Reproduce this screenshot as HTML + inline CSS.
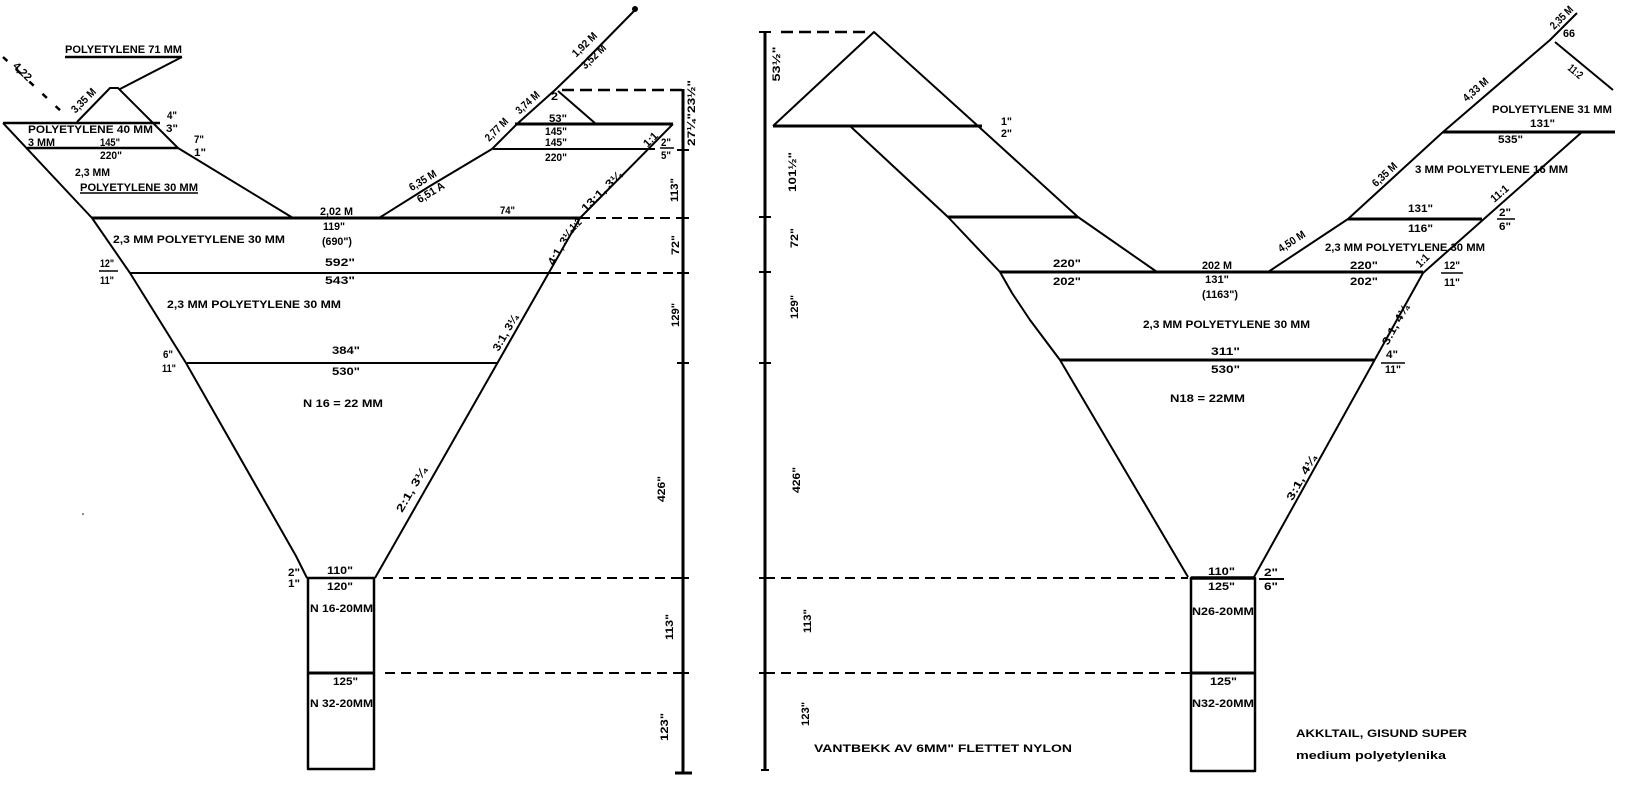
<!DOCTYPE html>
<html><head><meta charset="utf-8"><style>
html,body{margin:0;padding:0;background:#fff;}
svg{display:block;}
text{font-family:"Liberation Sans Narrow","Liberation Sans",sans-serif;font-weight:bold;font-size:11px;fill:#000;}
.r{text-anchor:middle;dominant-baseline:central;}
</style></head><body>
<svg width="1629" height="785" viewBox="0 0 1629 785" xmlns="http://www.w3.org/2000/svg">
<g fill="none" stroke="#000" stroke-linecap="butt" stroke-linejoin="round">
<!-- LEFT PANEL -->
<line x1="3" y1="57" x2="63" y2="113" stroke-width="2.5" stroke-dasharray="6,12"/>
<line x1="65" y1="57" x2="182" y2="57" stroke-width="2.5"/>
<line x1="182" y1="57" x2="120" y2="89" stroke-width="2"/>
<polyline points="77,122 110,88 118,88 178,148 293,218" stroke-width="2"/>
<line x1="3" y1="123" x2="160" y2="123" stroke-width="2.5"/>
<line x1="27" y1="148" x2="178" y2="148" stroke-width="2.5"/>
<polyline points="3,123 92,218 130,273 186,363 296,556 307,578" stroke-width="2"/>
<line x1="92" y1="218" x2="580" y2="218" stroke-width="3"/>
<polyline points="379,218 430,186 492,149 517,124 555,90 583,63 635,10" stroke-width="2"/>
<circle cx="635" cy="9" r="2.5" fill="#000"/>
<line x1="515" y1="124" x2="673" y2="124" stroke-width="3"/>
<line x1="493" y1="149" x2="655" y2="149" stroke-width="2"/>
<line x1="558" y1="91" x2="596" y2="124" stroke-width="2"/>
<line x1="562" y1="90" x2="683" y2="90" stroke-width="2.5" stroke-dasharray="12,6"/>
<polyline points="673,124 580,218 375,578" stroke-width="2"/>
<line x1="580" y1="218" x2="683" y2="218" stroke-width="2" stroke-dasharray="10,6"/>
<line x1="551" y1="273" x2="683" y2="273" stroke-width="2" stroke-dasharray="10,6"/>
<line x1="130" y1="273" x2="551" y2="273" stroke-width="2"/>
<line x1="187" y1="363" x2="497" y2="363" stroke-width="2"/>
<line x1="683" y1="89" x2="683" y2="773" stroke-width="3"/>
<g stroke-width="2">
<line x1="677" y1="150" x2="689" y2="150"/><line x1="677" y1="218" x2="689" y2="218"/>
<line x1="677" y1="273" x2="689" y2="273"/><line x1="677" y1="363" x2="689" y2="363"/>
<line x1="677" y1="578" x2="689" y2="578"/><line x1="677" y1="673" x2="689" y2="673"/>
</g>
<line x1="675" y1="773" x2="692" y2="773" stroke-width="3"/>
<rect x="308" y="578" width="66" height="191" stroke-width="2.5"/>
<line x1="308" y1="673" x2="374" y2="673" stroke-width="3"/>
<line x1="383" y1="578" x2="683" y2="578" stroke-width="2" stroke-dasharray="10,6"/>
<line x1="385" y1="673" x2="683" y2="673" stroke-width="2" stroke-dasharray="10,6"/>
<line x1="80" y1="193" x2="198" y2="193" stroke-width="1.5"/>
<line x1="99" y1="271" x2="118" y2="271" stroke-width="1.5"/>
<line x1="660" y1="148" x2="674" y2="148" stroke-width="1.5"/>

<!-- RIGHT PANEL -->
<line x1="765" y1="32" x2="765" y2="770" stroke-width="3"/>
<g stroke-width="2">
<line x1="759" y1="32" x2="771" y2="32"/><line x1="759" y1="217" x2="771" y2="217"/>
<line x1="759" y1="272" x2="771" y2="272"/><line x1="759" y1="363" x2="771" y2="363"/>
<line x1="759" y1="578" x2="771" y2="578"/><line x1="759" y1="673" x2="771" y2="673"/>
<line x1="761" y1="770" x2="769" y2="770"/>
</g>
<line x1="781" y1="32" x2="870" y2="32" stroke-width="2.5" stroke-dasharray="12,6"/>
<polyline points="773,126 874,32 978,126 1078,217 1157,272" stroke-width="2"/>
<line x1="773" y1="126" x2="982" y2="126" stroke-width="3"/>
<polyline points="850,126 948,217 1000,272 1012,293 1030,320 1060,360 1188,577" stroke-width="2"/>
<line x1="948" y1="217" x2="1078" y2="217" stroke-width="3"/>
<line x1="1000" y1="272" x2="1423" y2="272" stroke-width="3"/>
<polyline points="1268,272 1348,219 1443,132 1550,40 1577,13" stroke-width="2"/>
<line x1="1348" y1="219" x2="1482" y2="219" stroke-width="3"/>
<line x1="1443" y1="132" x2="1615" y2="132" stroke-width="3"/>
<polyline points="1582,132 1423,273 1254,577" stroke-width="2"/>
<line x1="1555" y1="42" x2="1613" y2="90" stroke-width="2"/>
<line x1="1060" y1="360" x2="1374" y2="360" stroke-width="3"/>
<rect x="1191" y="578" width="64" height="193" stroke-width="2.5"/>
<line x1="1191" y1="578" x2="1255" y2="578" stroke-width="3.5"/>
<line x1="1191" y1="673" x2="1255" y2="673" stroke-width="3"/>
<line x1="765" y1="578" x2="1188" y2="578" stroke-width="2" stroke-dasharray="10,6"/>
<line x1="765" y1="673" x2="1191" y2="673" stroke-width="2" stroke-dasharray="10,6"/>
<line x1="1259" y1="579" x2="1284" y2="579" stroke-width="2"/>
<line x1="1441" y1="273" x2="1463" y2="273" stroke-width="1.5"/>
<line x1="1381" y1="363" x2="1405" y2="363" stroke-width="1.5"/>
<line x1="1497" y1="219" x2="1515" y2="219" stroke-width="1.5"/>
</g>
<circle cx="83" cy="514" r="0.8" fill="#000"/>

<!-- LEFT LABELS -->
<text x="65" y="53" textLength="117" lengthAdjust="spacingAndGlyphs">POLYETYLENE 71 MM</text>
<text class="r" transform="translate(22,72) rotate(45)">4,22</text>
<text class="r" transform="translate(84,101) rotate(-45)" textLength="30" lengthAdjust="spacingAndGlyphs">3,35 M</text>
<text x="28" y="133" textLength="125" lengthAdjust="spacingAndGlyphs">POLYETYLENE 40 MM</text>
<text x="28" y="146" textLength="27" lengthAdjust="spacingAndGlyphs">3 MM</text>
<text x="100" y="146" textLength="20" lengthAdjust="spacingAndGlyphs">145"</text>
<text x="100" y="159" textLength="22" lengthAdjust="spacingAndGlyphs">220"</text>
<text x="75" y="176" textLength="35" lengthAdjust="spacingAndGlyphs">2,3 MM</text>
<text x="80" y="191" textLength="118" lengthAdjust="spacingAndGlyphs">POLYETYLENE 30 MM</text>
<text x="167" y="119" textLength="10" lengthAdjust="spacingAndGlyphs">4"</text>
<text x="166" y="132" textLength="12" lengthAdjust="spacingAndGlyphs">3"</text>
<text x="194" y="143" textLength="10" lengthAdjust="spacingAndGlyphs">7"</text>
<text x="194" y="156" textLength="12" lengthAdjust="spacingAndGlyphs">1"</text>
<text x="320" y="215" textLength="33" lengthAdjust="spacingAndGlyphs">2,02 M</text>
<text x="323" y="230" textLength="22" lengthAdjust="spacingAndGlyphs">119"</text>
<text x="322" y="245" textLength="30" lengthAdjust="spacingAndGlyphs">(690")</text>
<text x="500" y="214" textLength="15" lengthAdjust="spacingAndGlyphs">74"</text>
<text x="113" y="243" textLength="172" lengthAdjust="spacingAndGlyphs">2,3 MM  POLYETYLENE  30 MM</text>
<text x="325" y="266" textLength="30" lengthAdjust="spacingAndGlyphs">592"</text>
<text x="325" y="284" textLength="30" lengthAdjust="spacingAndGlyphs">543"</text>
<text x="100" y="267" textLength="14" lengthAdjust="spacingAndGlyphs">12"</text>
<text x="100" y="284" textLength="14" lengthAdjust="spacingAndGlyphs">11"</text>
<text x="167" y="308" textLength="174" lengthAdjust="spacingAndGlyphs">2,3 MM  POLYETYLENE  30 MM</text>
<text x="332" y="354" textLength="28" lengthAdjust="spacingAndGlyphs">384"</text>
<text x="332" y="375" textLength="28" lengthAdjust="spacingAndGlyphs">530"</text>
<text x="163" y="358" textLength="10" lengthAdjust="spacingAndGlyphs">6"</text>
<text x="162" y="372" textLength="14" lengthAdjust="spacingAndGlyphs">11"</text>
<text x="303" y="407" textLength="80" lengthAdjust="spacingAndGlyphs">N 16 = 22 MM</text>
<text class="r" transform="translate(561,247) rotate(-60)" textLength="40" lengthAdjust="spacingAndGlyphs">4:1,  3¼</text>
<text class="r" transform="translate(506,333) rotate(-60)" textLength="40" lengthAdjust="spacingAndGlyphs">3:1,  3¼</text>
<text class="r" transform="translate(412,490) rotate(-60)" textLength="50" lengthAdjust="spacingAndGlyphs">2:1,  3¼</text>
<text class="r" transform="translate(602,192) rotate(-45)" textLength="52" lengthAdjust="spacingAndGlyphs">13:1,  3¼</text>
<text class="r" transform="translate(651,140) rotate(-45)" textLength="16" lengthAdjust="spacingAndGlyphs">1:1</text>
<text x="661" y="146" textLength="10" lengthAdjust="spacingAndGlyphs">2"</text>
<text x="661" y="159" textLength="10" lengthAdjust="spacingAndGlyphs">5"</text>
<text class="r" transform="translate(576,225) rotate(-45)" textLength="12" lengthAdjust="spacingAndGlyphs">1:2</text>
<text x="549" y="122" textLength="18" lengthAdjust="spacingAndGlyphs">53"</text>
<text x="545" y="135" textLength="22" lengthAdjust="spacingAndGlyphs">145"</text>
<text x="545" y="146" textLength="22" lengthAdjust="spacingAndGlyphs">145"</text>
<text x="545" y="161" textLength="22" lengthAdjust="spacingAndGlyphs">220"</text>
<text x="551" y="100" textLength="7" lengthAdjust="spacingAndGlyphs">2</text>
<text class="r" transform="translate(423,181) rotate(-31)" textLength="30" lengthAdjust="spacingAndGlyphs">6,35 M</text>
<text class="r" transform="translate(431,193) rotate(-31)" textLength="30" lengthAdjust="spacingAndGlyphs">6,51 A</text>
<text class="r" transform="translate(497,130) rotate(-45)" textLength="28" lengthAdjust="spacingAndGlyphs">2,77 M</text>
<text class="r" transform="translate(528,103) rotate(-42)" textLength="28" lengthAdjust="spacingAndGlyphs">3,74 M</text>
<text class="r" transform="translate(585,45) rotate(-44)" textLength="30" lengthAdjust="spacingAndGlyphs">1,92 M</text>
<text class="r" transform="translate(594,57) rotate(-44)" textLength="30" lengthAdjust="spacingAndGlyphs">3,52 M</text>
<text class="r" transform="translate(692,113) rotate(-90)" textLength="66" lengthAdjust="spacingAndGlyphs">27¼"23½"</text>
<text class="r" transform="translate(675,190) rotate(-90)" textLength="24" lengthAdjust="spacingAndGlyphs">113"</text>
<text class="r" transform="translate(676,245) rotate(-90)" textLength="20" lengthAdjust="spacingAndGlyphs">72"</text>
<text class="r" transform="translate(676,315) rotate(-90)" textLength="24" lengthAdjust="spacingAndGlyphs">129"</text>
<text class="r" transform="translate(662,489) rotate(-90)" textLength="26" lengthAdjust="spacingAndGlyphs">426"</text>
<text class="r" transform="translate(670,627) rotate(-90)" textLength="26" lengthAdjust="spacingAndGlyphs">113"</text>
<text class="r" transform="translate(665,727) rotate(-90)" textLength="28" lengthAdjust="spacingAndGlyphs">123"</text>
<text x="327" y="574" textLength="26" lengthAdjust="spacingAndGlyphs">110"</text>
<text x="327" y="590" textLength="26" lengthAdjust="spacingAndGlyphs">120"</text>
<text x="310" y="612" textLength="63" lengthAdjust="spacingAndGlyphs">N 16-20MM</text>
<text x="333" y="685" textLength="25" lengthAdjust="spacingAndGlyphs">125"</text>
<text x="310" y="707" textLength="63" lengthAdjust="spacingAndGlyphs">N 32-20MM</text>
<text x="288" y="576" textLength="12" lengthAdjust="spacingAndGlyphs">2"</text>
<text x="288" y="587" textLength="12" lengthAdjust="spacingAndGlyphs">1"</text>

<!-- RIGHT LABELS -->
<text class="r" transform="translate(777,64) rotate(-90)" textLength="35" lengthAdjust="spacingAndGlyphs">53½"</text>
<text class="r" transform="translate(793,172) rotate(-90)" textLength="40" lengthAdjust="spacingAndGlyphs">101½"</text>
<text class="r" transform="translate(795,238) rotate(-90)" textLength="20" lengthAdjust="spacingAndGlyphs">72"</text>
<text class="r" transform="translate(795,307) rotate(-90)" textLength="24" lengthAdjust="spacingAndGlyphs">129"</text>
<text class="r" transform="translate(797,480) rotate(-90)" textLength="26" lengthAdjust="spacingAndGlyphs">426"</text>
<text class="r" transform="translate(808,621) rotate(-90)" textLength="24" lengthAdjust="spacingAndGlyphs">113"</text>
<text class="r" transform="translate(806,714) rotate(-90)" textLength="24" lengthAdjust="spacingAndGlyphs">123"</text>
<text x="1001" y="125" textLength="11" lengthAdjust="spacingAndGlyphs">1"</text>
<text x="1001" y="137" textLength="11" lengthAdjust="spacingAndGlyphs">2"</text>
<text x="1053" y="267" textLength="28" lengthAdjust="spacingAndGlyphs">220"</text>
<text x="1053" y="285" textLength="28" lengthAdjust="spacingAndGlyphs">202"</text>
<text x="1202" y="269" textLength="30" lengthAdjust="spacingAndGlyphs">202 M</text>
<text x="1205" y="283" textLength="24" lengthAdjust="spacingAndGlyphs">131"</text>
<text x="1202" y="298" textLength="36" lengthAdjust="spacingAndGlyphs">(1163")</text>
<text class="r" transform="translate(1292,242) rotate(-33)" textLength="30" lengthAdjust="spacingAndGlyphs">4,50 M</text>
<text x="1325" y="251" textLength="160" lengthAdjust="spacingAndGlyphs">2,3 MM POLYETYLENE 30 MM</text>
<text x="1350" y="269" textLength="28" lengthAdjust="spacingAndGlyphs">220"</text>
<text x="1350" y="285" textLength="28" lengthAdjust="spacingAndGlyphs">202"</text>
<text class="r" transform="translate(1423,261) rotate(-45)" textLength="14" lengthAdjust="spacingAndGlyphs">1:1</text>
<text x="1444" y="269" textLength="16" lengthAdjust="spacingAndGlyphs">12"</text>
<text x="1444" y="286" textLength="16" lengthAdjust="spacingAndGlyphs">11"</text>
<text x="1408" y="212" textLength="25" lengthAdjust="spacingAndGlyphs">131"</text>
<text x="1408" y="232" textLength="25" lengthAdjust="spacingAndGlyphs">116"</text>
<text class="r" transform="translate(1385,175) rotate(-43)" textLength="30" lengthAdjust="spacingAndGlyphs">6,35 M</text>
<text x="1415" y="173" textLength="153" lengthAdjust="spacingAndGlyphs">3 MM POLYETYLENE 16 MM</text>
<text class="r" transform="translate(1500,194) rotate(-41)" textLength="20" lengthAdjust="spacingAndGlyphs">11:1</text>
<text x="1499" y="216" textLength="12" lengthAdjust="spacingAndGlyphs">2"</text>
<text x="1499" y="230" textLength="12" lengthAdjust="spacingAndGlyphs">6"</text>
<text class="r" transform="translate(1476,90) rotate(-41)" textLength="30" lengthAdjust="spacingAndGlyphs">4,33 M</text>
<text x="1492" y="113" textLength="120" lengthAdjust="spacingAndGlyphs">POLYETYLENE 31 MM</text>
<text x="1530" y="127" textLength="25" lengthAdjust="spacingAndGlyphs">131"</text>
<text x="1498" y="143" textLength="25" lengthAdjust="spacingAndGlyphs">535"</text>
<text class="r" transform="translate(1562,18) rotate(-45)" textLength="28" lengthAdjust="spacingAndGlyphs">2,35 M</text>
<text x="1563" y="37" textLength="12" lengthAdjust="spacingAndGlyphs">66</text>
<text class="r" transform="translate(1575,72) rotate(40)" textLength="16" lengthAdjust="spacingAndGlyphs">11:2</text>
<text x="1143" y="328" textLength="167" lengthAdjust="spacingAndGlyphs">2,3 MM POLYETYLENE 30 MM</text>
<text x="1211" y="355" textLength="29" lengthAdjust="spacingAndGlyphs">311"</text>
<text x="1211" y="373" textLength="29" lengthAdjust="spacingAndGlyphs">530"</text>
<text x="1170" y="402" textLength="75" lengthAdjust="spacingAndGlyphs">N18 = 22MM</text>
<text x="1386" y="358" textLength="12" lengthAdjust="spacingAndGlyphs">4"</text>
<text x="1385" y="373" textLength="16" lengthAdjust="spacingAndGlyphs">11"</text>
<text class="r" transform="translate(1396,325) rotate(-61)" textLength="44" lengthAdjust="spacingAndGlyphs">3:1,  4¼</text>
<text class="r" transform="translate(1302,478) rotate(-61)" textLength="50" lengthAdjust="spacingAndGlyphs">3:1,  4¼</text>
<text x="1208" y="575" textLength="27" lengthAdjust="spacingAndGlyphs">110"</text>
<text x="1208" y="590" textLength="27" lengthAdjust="spacingAndGlyphs">125"</text>
<text x="1192" y="615" textLength="62" lengthAdjust="spacingAndGlyphs">N26-20MM</text>
<text x="1210" y="685" textLength="27" lengthAdjust="spacingAndGlyphs">125"</text>
<text x="1192" y="707" textLength="62" lengthAdjust="spacingAndGlyphs">N32-20MM</text>
<text x="1264" y="576" textLength="14" lengthAdjust="spacingAndGlyphs">2"</text>
<text x="1264" y="590" textLength="14" lengthAdjust="spacingAndGlyphs">6"</text>
<text x="814" y="752" textLength="258" lengthAdjust="spacingAndGlyphs">VANTBEKK AV 6MM" FLETTET NYLON</text>
<text x="1296" y="737" textLength="171" lengthAdjust="spacingAndGlyphs">AKKLTAIL, GISUND SUPER</text>
<text x="1296" y="759" textLength="150" lengthAdjust="spacingAndGlyphs">medium polyetylenika</text>
</svg>
</body></html>
